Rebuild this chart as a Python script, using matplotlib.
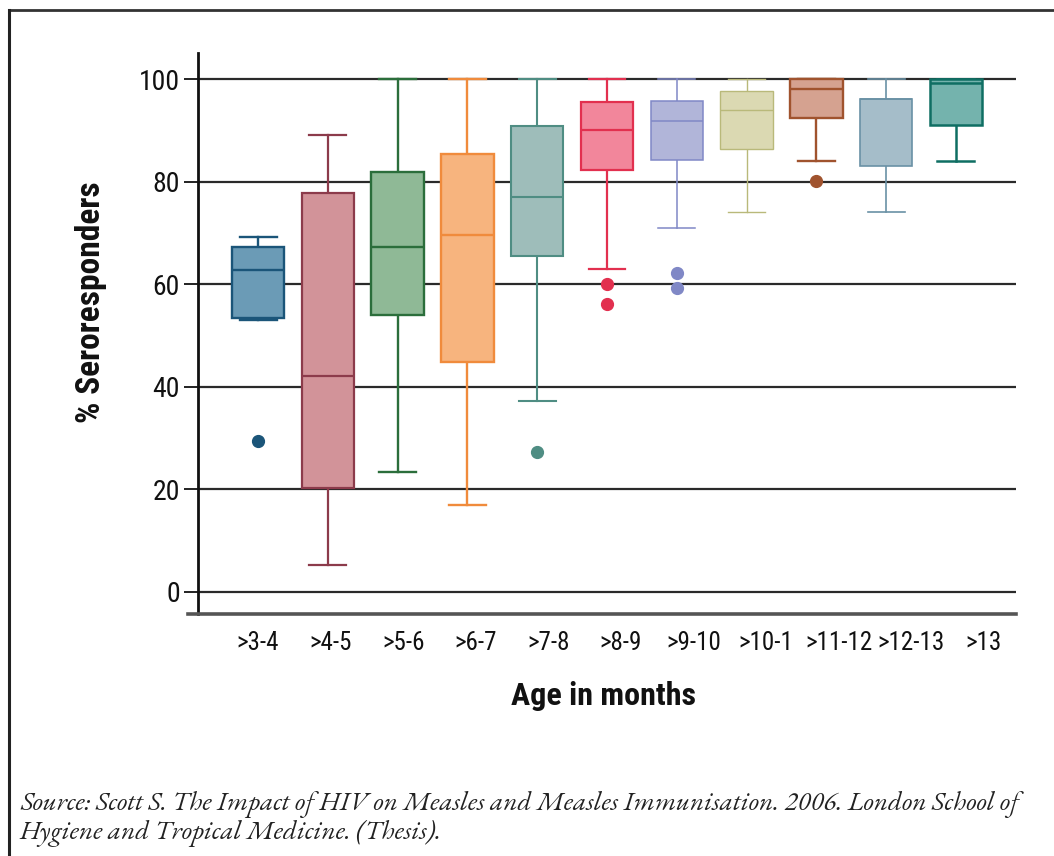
import matplotlib
matplotlib.use("Agg")
import matplotlib.pyplot as plt
from matplotlib import font_manager
from matplotlib.lines import Line2D

# ---- data ----
categories = [">3-4", ">4-5", ">5-6", ">6-7", ">7-8", ">8-9", ">9-10", ">10-1", ">11-12", ">12-13", ">13"]
whislo = [53.0, 5.3, 23.3, 16.9, 37.2, 63.0, 71.0, 74.1, 84.0, 74.1, 84.1]
q1 = [53.4, 20.3, 54.1, 44.8, 65.5, 82.3, 84.2, 86.4, 92.4, 83.0, 91.0]
med = [62.8, 42.1, 67.2, 69.6, 77.1, 90.1, 91.9, 94.0, 98.1, 96.1, 99.3]
q3 = [67.3, 77.8, 81.9, 85.4, 90.9, 95.6, 95.8, 97.7, 100.0, 96.1, 100.0]
whishi = [69.2, 89.1, 100.0, 100.0, 100.0, 100.0, 100.0, 100.0, 100.0, 100.0, 100.0]
fliers = [[29.4], [], [], [], [27.2], [60.0, 56.1], [62.2, 59.2], [], [80.1], [], []]

fills = ["#6b9bb6", "#d29399", "#8fb996", "#f7b47e", "#9ebdba", "#f2869b",
         "#b1b5d9", "#dbd9b2", "#d5a290", "#a5bdc9", "#74b3ad"]
edges = ["#1b5579", "#8c3b4b", "#2b6e3b", "#f08b3c", "#4f8d83", "#e2304f",
         "#8088c6", "#b9b97a", "#a0532e", "#6a91a5", "#0f6e63"]
lws = [1.7, 1.6, 1.7, 1.7, 1.5, 1.6, 1.1, 1.0, 1.7, 1.2, 1.8]

# ---- fonts ----
avail = {f.name for f in font_manager.fontManager.ttflist}
sans = next((f for f in ["Liberation Sans Narrow", "Roboto Condensed", "Arial Narrow",
                         "Liberation Sans", "DejaVu Sans"] if f in avail), "DejaVu Sans")
serif = next((f for f in ["EB Garamond", "Liberation Serif", "DejaVu Serif"] if f in avail), "DejaVu Serif")
narrow = sans in ("Liberation Sans Narrow", "Roboto Condensed", "Arial Narrow")

fig = plt.figure(figsize=(10.54, 8.56), dpi=100)
ax = fig.add_axes([198 / 1054, 1 - 614 / 856, 818 / 1054, 561 / 856])

stats = []
for i in range(len(categories)):
    stats.append(dict(label=categories[i], whislo=whislo[i], q1=q1[i], med=med[i],
                      q3=q3[i], whishi=whishi[i], fliers=fliers[i]))

for i, s in enumerate(stats):
    c = edges[i]
    ax.bxp([s], positions=[i], widths=0.75, capwidths=0.53, patch_artist=True,
           showfliers=True, manage_ticks=False,
           boxprops=dict(facecolor=fills[i], edgecolor=c, linewidth=lws[i], zorder=3),
           medianprops=dict(color=c, linewidth=lws[i], zorder=4),
           whiskerprops=dict(color=c, linewidth=lws[i], zorder=2.5),
           capprops=dict(color=c, linewidth=lws[i], zorder=2.5),
           flierprops=dict(marker="o", markerfacecolor=c, markeredgecolor=c,
                           markersize=8.5, zorder=4))

ax.set_xlim(-0.86, 10.86)
ax.set_ylim(-4.3, 105.1)
ax.set_yticks([0, 20, 40, 60, 80, 100])
ax.yaxis.grid(True, color="#2a2a2a", linewidth=1.6, zorder=1)
ax.set_axisbelow(True)

# tick labels slightly spread as in the reference
ax.set_xticks([i * 1.04 for i in range(len(categories))])
ax.set_xticklabels(categories)
ax.tick_params(axis="x", length=0, pad=12)
ax.tick_params(axis="y", length=10, width=1.4, color="#222222", pad=3)

for lab in ax.get_xticklabels():
    lab.set_fontfamily(sans)
    lab.set_fontsize(18 if narrow else 14)
    lab.set_color("#111111")
for lab in ax.get_yticklabels():
    lab.set_fontfamily(sans)
    lab.set_fontsize(20 if narrow else 15)
    lab.set_color("#111111")

for sp in ["top", "right"]:
    ax.spines[sp].set_visible(False)
ax.spines["left"].set_linewidth(2.0)
ax.spines["left"].set_color("#111111")
ax.spines["bottom"].set_linewidth(2.6)
ax.spines["bottom"].set_color("#555555")
ax.spines["bottom"].set_bounds(-0.86 - 10 / 69.8, 10.86)

ax.set_ylabel("% Seroresponders", fontfamily=sans, fontsize=24 if narrow else 19,
              fontweight="bold", color="#111111")
ax.yaxis.set_label_coords(-0.111, 0.556)
ax.set_xlabel("Age in months", fontfamily=sans, fontsize=23 if narrow else 18,
              fontweight="bold", color="#111111")
ax.xaxis.set_label_coords(0.496, -0.119)

# figure frame (top and left edges as in the reference)
fig.add_artist(Line2D([8.5 / 1054, 1.0], [1 - 10 / 856, 1 - 10 / 856],
                      transform=fig.transFigure, color="#333333", linewidth=2.0))
fig.add_artist(Line2D([8.5 / 1054, 8.5 / 1054], [0.0, 1 - 10 / 856],
                      transform=fig.transFigure, color="#222222", linewidth=2.2))

fig.text(20 / 1054, 1 - 791 / 856,
         "Source: Scott S. The Impact of HIV on Measles and Measles Immunisation. 2006. London School of\n"
         "Hygiene and Tropical Medicine. (Thesis).",
         fontfamily=serif, fontstyle="italic", fontsize=19.5, color="#222222",
         va="top", ha="left", linespacing=1.1)

fig.savefig("out.png", dpi=100)
